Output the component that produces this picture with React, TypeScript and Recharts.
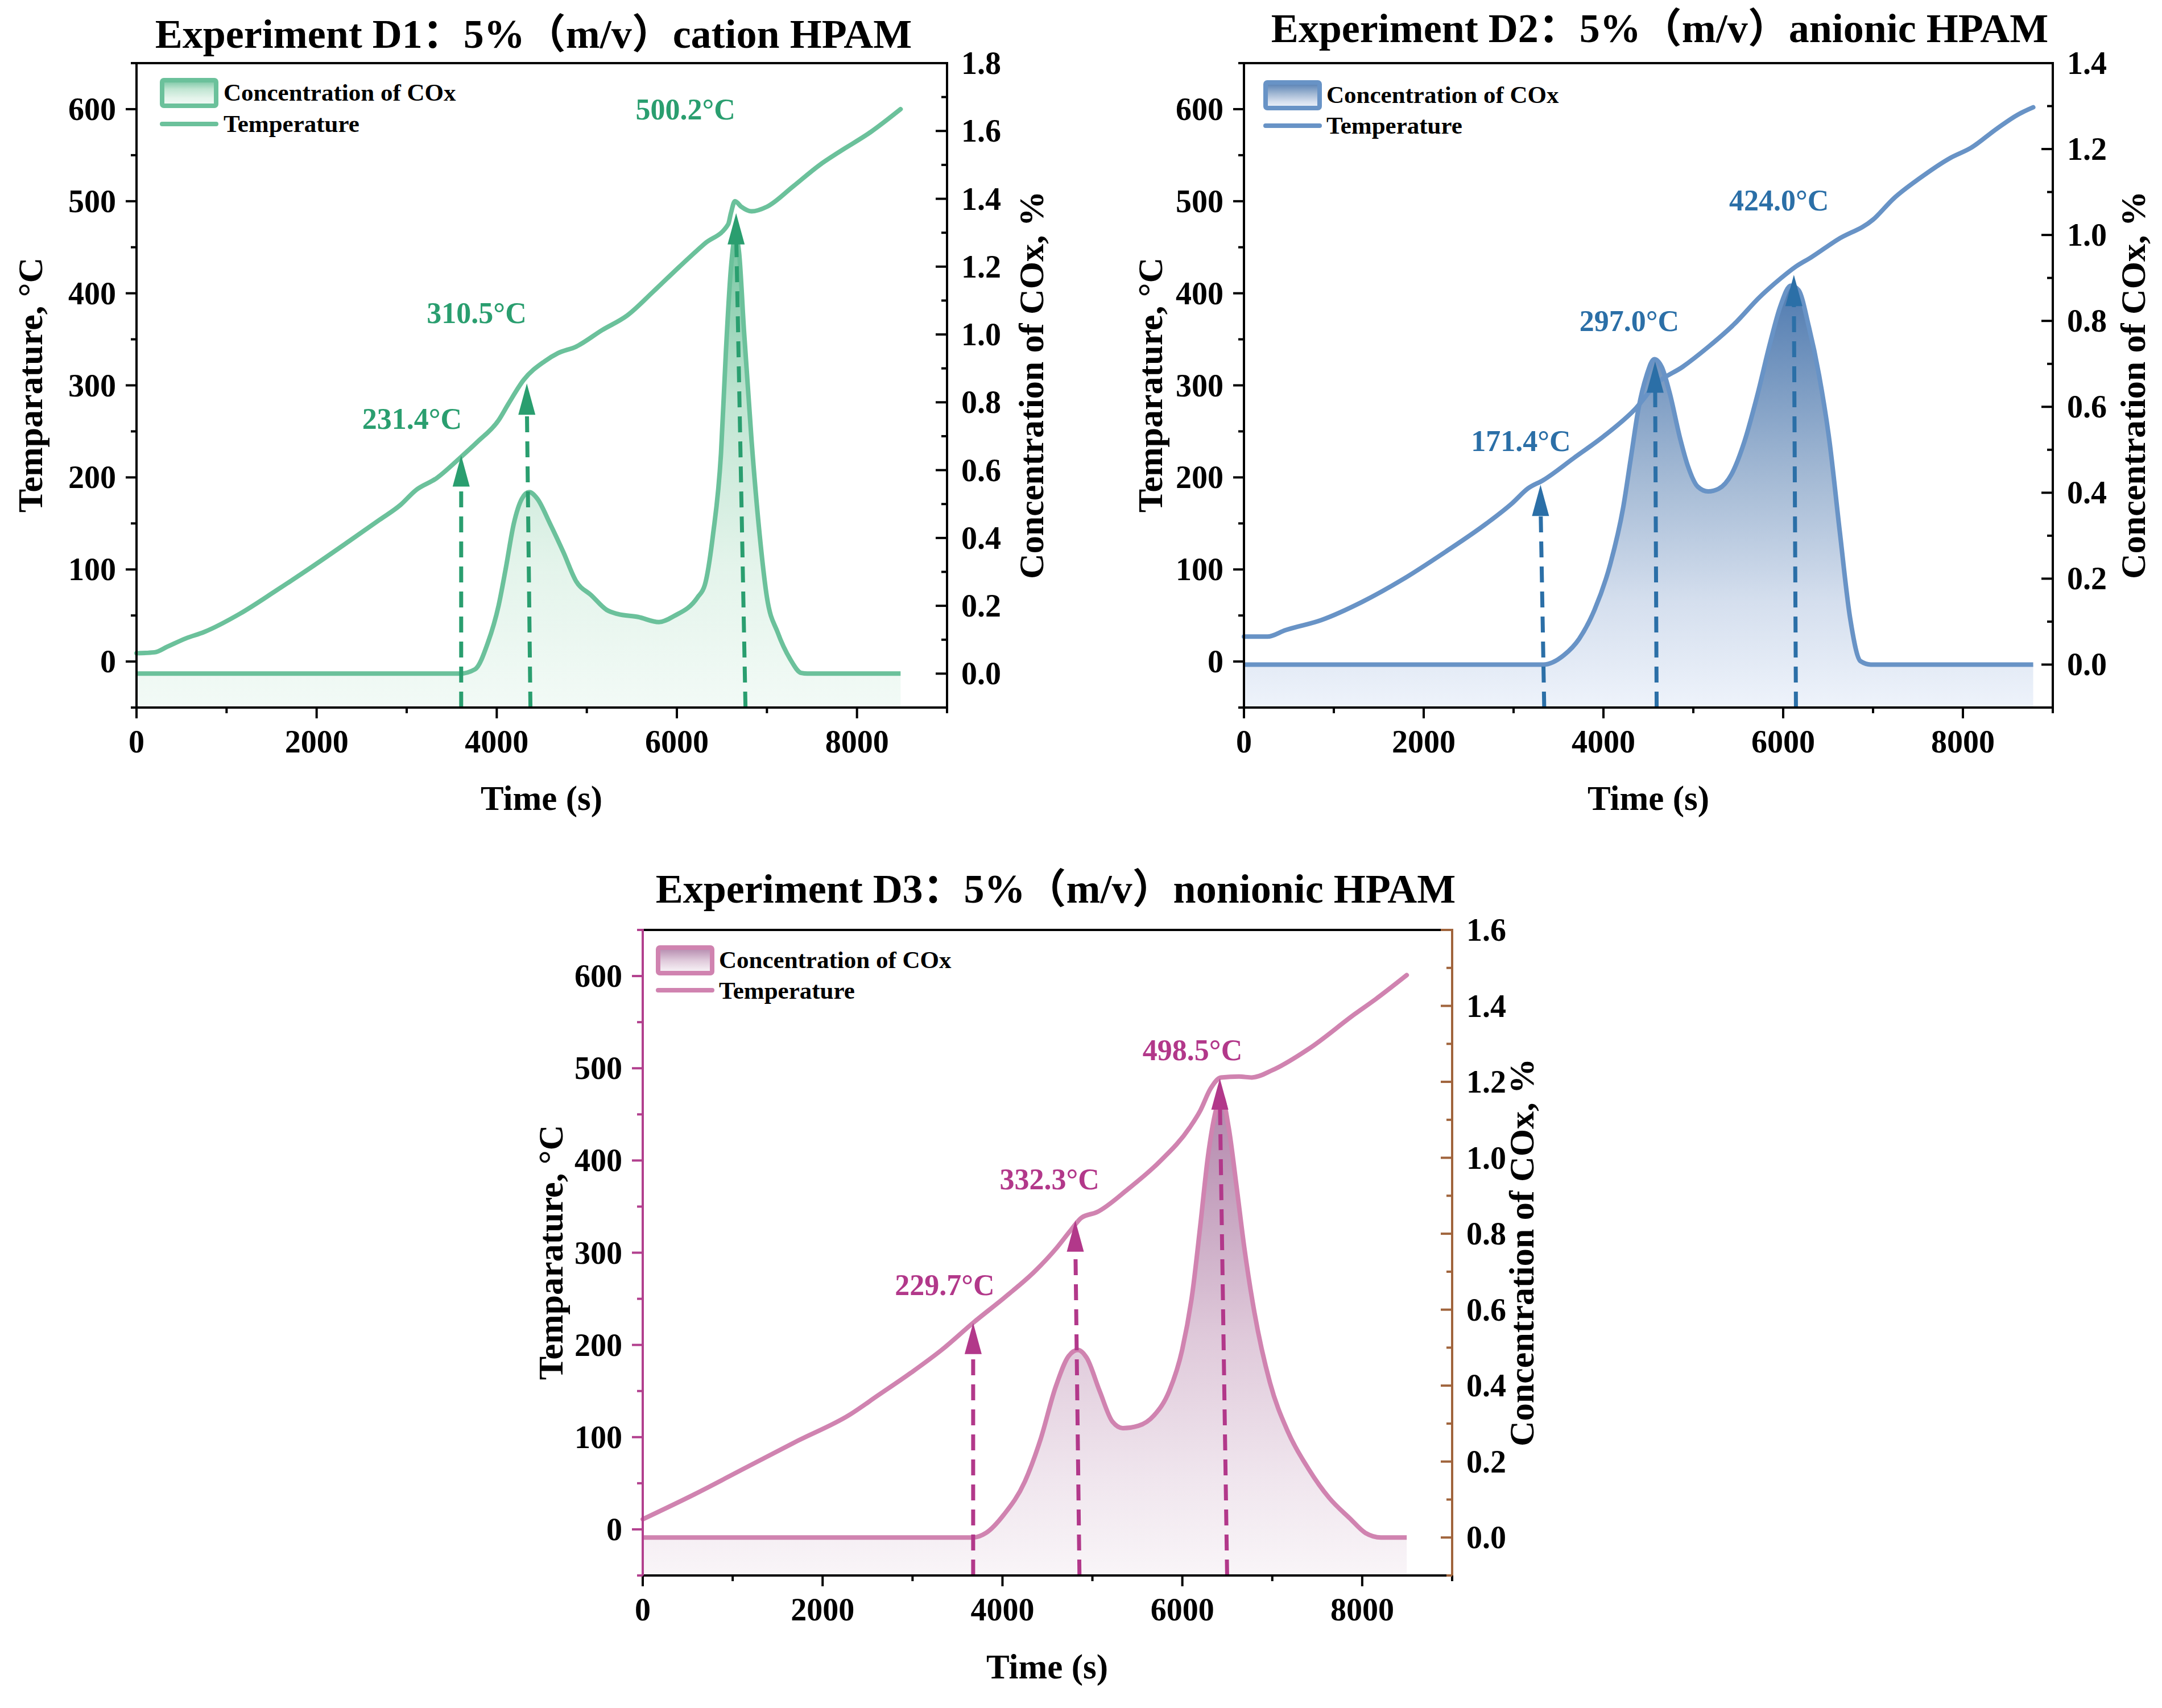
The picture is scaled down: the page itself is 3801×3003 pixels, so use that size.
import React from 'react';
import { ComposedChart, Line, Area, XAxis, YAxis, ReferenceLine, ReferenceDot } from 'recharts';

const FONT = "'Times New Roman', 'Liberation Serif', 'Noto Sans CJK SC', serif";

// ---------- tick values ----------
const X_TICKS = [0, 1000, 2000, 3000, 4000, 5000, 6000, 7000, 8000, 9000];
const X_LABELS = [0, 2000, 4000, 6000, 8000];
const T_TICKS = [-50, 0, 50, 100, 150, 200, 250, 300, 350, 400, 450, 500, 550, 600, 650];
const T_LABELS = [0, 100, 200, 300, 400, 500, 600];
const C_TICKS_D1 = [-0.1, 0, 0.1, 0.2, 0.3, 0.4, 0.5, 0.6, 0.7, 0.8, 0.9, 1.0, 1.1, 1.2, 1.3, 1.4, 1.5, 1.6, 1.7, 1.8];
const C_TICKS_D2 = [-0.1, 0, 0.1, 0.2, 0.3, 0.4, 0.5, 0.6, 0.7, 0.8, 0.9, 1.0, 1.1, 1.2, 1.3, 1.4];
const C_TICKS_D3 = [-0.1, 0, 0.1, 0.2, 0.3, 0.4, 0.5, 0.6, 0.7, 0.8, 0.9, 1.0, 1.1, 1.2, 1.3, 1.4, 1.5, 1.6];
const C_LABELS = [0, 0.2, 0.4, 0.6, 0.8, 1.0, 1.2, 1.4, 1.6, 1.8];

// ---------- D1: cation HPAM ----------
const d1TempTime = [0, 200, 340, 545, 750, 1150, 1550, 1950, 2350, 2700, 2930, 3100, 3330, 3590, 3790, 4020, 4130, 4300, 4530, 4680, 4880, 5170, 5450, 5740, 6030, 6310, 6570, 6600, 6645, 6715, 6830, 7000, 7290, 7580, 7810, 8150, 8484];
const d1Temp = [9, 10, 16, 25, 32, 52, 77, 103, 130, 154, 170, 186, 199, 221, 239, 262, 280, 306, 326, 335, 342, 360, 376, 402, 429, 454, 475, 487, 500, 494, 489, 494, 516, 539, 554, 575, 600];
const d1ConcTime = [0, 3590, 3760, 3900, 4020, 4100, 4190, 4280, 4360, 4450, 4590, 4740, 4880, 5050, 5220, 5340, 5570, 5800, 5970, 6230, 6310, 6400, 6490, 6545, 6600, 6650, 6690, 6745, 6830, 6920, 7000, 7120, 7260, 7380, 7450, 8484];
const d1Conc = [0, 0, 0.013, 0.09, 0.2, 0.31, 0.443, 0.516, 0.535, 0.516, 0.443, 0.358, 0.273, 0.231, 0.188, 0.176, 0.167, 0.152, 0.17, 0.225, 0.261, 0.407, 0.649, 0.952, 1.194, 1.29, 1.243, 1.012, 0.685, 0.407, 0.225, 0.121, 0.042, 0.002, 0, 0];
const d1Arrows = [
  { bottom: 3605, top: 3605, temp: 224 },
  { bottom: 4374, top: 4334, temp: 302 },
  { bottom: 6762, top: 6658, temp: 487 },
];
const d1Notes = [
  { text: '231.4°C', time: 3060, temp: 264 },
  { text: '310.5°C', time: 3777, temp: 379 },
  { text: '500.2°C', time: 6096, temp: 600 },
];

// ---------- D2: anionic HPAM ----------
const d2TempTime = [0, 260, 460, 860, 1320, 1780, 2240, 2700, 2985, 3160, 3330, 3670, 4020, 4360, 4590, 4880, 5170, 5450, 5740, 5970, 6140, 6310, 6600, 7000, 7230, 7520, 7860, 8090, 8380, 8610, 8782];
const d2Temp = [27, 27, 34, 45, 65, 90, 119, 150, 172, 188, 197, 221, 246, 275, 302, 320, 342, 366, 396, 416, 429, 439, 458, 480, 503, 525, 547, 558, 579, 594, 602];
const d2ConcTime = [0, 3330, 3560, 3730, 3900, 4075, 4220, 4305, 4390, 4480, 4565, 4650, 4735, 4850, 4940, 5050, 5165, 5280, 5425, 5570, 5710, 5855, 5970, 6085, 6170, 6285, 6400, 6515, 6630, 6745, 6860, 6975, 8782];
const d2Conc = [0, 0, 0.022, 0.06, 0.127, 0.233, 0.366, 0.481, 0.596, 0.673, 0.711, 0.692, 0.634, 0.529, 0.462, 0.414, 0.403, 0.409, 0.443, 0.52, 0.625, 0.749, 0.835, 0.882, 0.872, 0.787, 0.673, 0.52, 0.309, 0.108, 0.008, 0, 0];
const d2Arrows = [
  { bottom: 3341, top: 3300, temp: 192 },
  { bottom: 4592, top: 4575, temp: 326 },
  { bottom: 6142, top: 6119, temp: 420 },
];
const d2Notes = [
  { text: '171.4°C', time: 3082, temp: 240 },
  { text: '297.0°C', time: 4288, temp: 370 },
  { text: '424.0°C', time: 5953, temp: 501 },
];

// ---------- D3: nonionic HPAM ----------
const d3TempTime = [0, 574, 1148, 1722, 2296, 2612, 2985, 3329, 3674, 4018, 4362, 4592, 4764, 4879, 5051, 5396, 5740, 6084, 6199, 6314, 6429, 6630, 6773, 7003, 7405, 7921, 8151, 8495];
const d3Temp = [11, 38, 67, 96, 124, 145, 170, 195, 224, 251, 280, 304, 325, 338, 344, 369, 398, 436, 454, 478, 490, 491, 490, 498, 521, 559, 575, 601];
const d3ConcTime = [0, 3674, 3817, 4018, 4248, 4420, 4592, 4736, 4839, 4937, 5080, 5223, 5338, 5510, 5683, 5855, 5998, 6113, 6199, 6285, 6371, 6429, 6515, 6601, 6688, 6802, 6974, 7175, 7405, 7634, 7864, 8036, 8208, 8495];
const d3Conc = [0, 0, 0.012, 0.061, 0.147, 0.256, 0.397, 0.478, 0.494, 0.473, 0.386, 0.305, 0.288, 0.294, 0.321, 0.386, 0.494, 0.646, 0.82, 1.004, 1.123, 1.165, 1.08, 0.928, 0.765, 0.592, 0.408, 0.278, 0.18, 0.104, 0.05, 0.012, 0, 0];
const d3Arrows = [
  { bottom: 3674, top: 3674, temp: 224 },
  { bottom: 4856, top: 4810, temp: 335 },
  { bottom: 6498, top: 6417, temp: 489 },
];
const d3Notes = [
  { text: '229.7°C', time: 3358, temp: 265 },
  { text: '332.3°C', time: 4523, temp: 380 },
  { text: '498.5°C', time: 6113, temp: 520 },
];

function merge(tt: number[], tv: number[], ct: number[], cv: number[]) {
  const map = new Map<number, any>();
  tt.forEach((t, i) => { const o = map.get(t) || { t }; o.temp = tv[i]; map.set(t, o); });
  ct.forEach((t, i) => { const o = map.get(t) || { t }; o.conc = cv[i]; map.set(t, o); });
  return Array.from(map.values()).sort((a, b) => a.t - b.t);
}

const isLabel = (arr: number[], v: number) => arr.some((a) => Math.abs(a - v) < 1e-6);

const makeXTick = (color: string) => (p: any) => {
  const { x, y, payload } = p;
  const v = payload.value;
  const major = isLabel(X_LABELS, v);
  return (
    <g>
      <line x1={x} y1={y} x2={x} y2={y + (major ? 19 : 10)} stroke={color} strokeWidth={4} />
      {major && (
        <text x={x} y={y + 79} textAnchor="middle" fontFamily={FONT} fontWeight="bold" fontSize={56} fill="#000">{v}</text>
      )}
    </g>
  );
};

const makeLeftTick = (color: string) => (p: any) => {
  const { x, y, payload } = p;
  const v = payload.value;
  const major = isLabel(T_LABELS, v);
  return (
    <g>
      <line x1={x} y1={y} x2={x - (major ? 19 : 10)} y2={y} stroke={color} strokeWidth={4} />
      {major && (
        <text x={x - 36} y={y + 19} textAnchor="end" fontFamily={FONT} fontWeight="bold" fontSize={56} fill="#000">{v}</text>
      )}
    </g>
  );
};

const makeRightTick = (color: string) => (p: any) => {
  const { x, y, payload } = p;
  const v = payload.value;
  const major = isLabel(C_LABELS, v);
  return (
    <g>
      <line x1={x} y1={y} x2={x - (major ? 20 : 10)} y2={y} stroke={color} strokeWidth={4} />
      {major && (
        <text x={x + 25} y={y + 19} textAnchor="start" fontFamily={FONT} fontWeight="bold" fontSize={56} fill="#000">{Number(v).toFixed(1)}</text>
      )}
    </g>
  );
};

type PanelProps = {
  id: string;
  data: any[];
  cMax: number;
  cTicks: number[];
  line: string;
  accent: string;
  stops: [number, string][];
  arrows: { bottom: number; top: number; temp: number }[];
  notes: { text: string; time: number; temp: number }[];
  width: number;
  height: number;
  margin: { top: number; right: number; bottom: number; left: number };
  leftW: number;
  leftAxisColor: string;
  rightAxisColor: string;
};

function Panel(props: PanelProps) {
  const { id, data, cMax, cTicks, line, accent, stops, arrows, notes, width, height, margin, leftW, leftAxisColor, rightAxisColor } = props;
  return (
    <ComposedChart width={width} height={height} data={data} margin={margin}>
      <defs>
        <linearGradient id={`grad-${id}`} x1="0" y1="0" x2="0" y2="1">
          {stops.map(([o, c], i) => <stop key={i} offset={o} stopColor={c} stopOpacity={1} />)}
        </linearGradient>
      </defs>
      <XAxis
        type="number"
        dataKey="t"
        domain={[0, 9000]}
        ticks={X_TICKS}
        interval={0}
        height={100}
        tickSize={0}
        tickMargin={0}
        tickLine={false}
        axisLine={{ stroke: '#000', strokeWidth: 4, strokeLinecap: 'square' }}
        tick={makeXTick('#000')}
      />
      <YAxis
        yAxisId="T"
        orientation="left"
        type="number"
        domain={[-50, 650]}
        ticks={T_TICKS}
        interval={0}
        width={leftW}
        tickSize={0}
        tickMargin={0}
        tickLine={false}
        axisLine={{ stroke: leftAxisColor, strokeWidth: 4, strokeLinecap: 'square' }}
        tick={makeLeftTick(leftAxisColor)}
      />
      <YAxis
        yAxisId="C"
        orientation="right"
        type="number"
        domain={[-0.1, cMax]}
        ticks={cTicks}
        interval={0}
        width={150}
        tickSize={0}
        tickMargin={0}
        tickLine={false}
        axisLine={{ stroke: rightAxisColor, strokeWidth: 4, strokeLinecap: 'square' }}
        tick={makeRightTick(rightAxisColor)}
      />
      <ReferenceLine yAxisId="T" y={650} stroke="#000" strokeWidth={4} ifOverflow="visible" />
      <Area
        yAxisId="C"
        type="monotone"
        dataKey="conc"
        stroke={line}
        strokeWidth={8}
        fill={`url(#grad-${id})`}
        fillOpacity={1}
        baseValue="dataMin"
        connectNulls
        dot={false}
        activeDot={false}
        isAnimationActive={false}
      />
      <Line
        yAxisId="T"
        type="monotone"
        dataKey="temp"
        stroke={line}
        strokeWidth={8}
        strokeLinecap="round"
        dot={false}
        activeDot={false}
        connectNulls
        isAnimationActive={false}
      />
      {arrows.map((a, i) => (
        <ReferenceLine
          key={`al${i}`}
          yAxisId="T"
          segment={[{ x: a.bottom, y: -50 }, { x: a.top, y: a.temp - 20 }]}
          stroke={accent}
          strokeWidth={7}
          strokeDasharray="28 16"
          ifOverflow="visible"
        />
      ))}
      {arrows.map((a, i) => (
        <ReferenceDot
          key={`ah${i}`}
          yAxisId="T"
          x={a.top}
          y={a.temp}
          r={0}
          ifOverflow="visible"
          shape={(p: any) => (
            <polygon points={`${p.cx},${p.cy} ${p.cx - 15},${p.cy + 55} ${p.cx + 15},${p.cy + 55}`} fill={accent} />
          )}
        />
      ))}
      {notes.map((n, i) => (
        <ReferenceDot
          key={`nt${i}`}
          yAxisId="T"
          x={n.time}
          y={n.temp}
          r={0}
          ifOverflow="visible"
          shape={(p: any) => (
            <text x={p.cx} y={p.cy + 18} textAnchor="middle" fontFamily={FONT} fontWeight="bold" fontSize={52} fill={accent}>{n.text}</text>
          )}
        />
      ))}
    </ComposedChart>
  );
}

const D1_STOPS: [number, string][] = [[0, '#74c4a0'], [0.35, '#c0e5d2'], [0.7, '#e4f4eb'], [1, '#f2faf6']];
const D2_STOPS: [number, string][] = [[0, '#507bb0'], [0.45, '#a3b9d4'], [0.75, '#d5dfee'], [1, '#eef3fb']];
const D3_STOPS: [number, string][] = [[0, '#b286ab'], [0.5, '#dfc9da'], [0.8, '#f0e6ee'], [1, '#f9f5f8']];

function LegendBlock({ x, y, line, stops, id, tx, b1, b2, ly }: any) {
  return (
    <g>
      <defs>
        <linearGradient id={`lg-${id}`} x1="0" y1="0" x2="0" y2="1">
          {stops.map(([o, c]: [number, string], i: number) => <stop key={i} offset={o} stopColor={c} />)}
        </linearGradient>
      </defs>
      <rect x={x + 4} y={y + 4} width={95} height={45} rx={3} fill={`url(#lg-${id})`} stroke={line} strokeWidth={8} />
      <line x1={x + 4} y1={ly} x2={x + 99} y2={ly} stroke={line} strokeWidth={8} strokeLinecap="round" />
      <text x={tx} y={b1} fontFamily={FONT} fontWeight="bold" fontSize={43} fill="#000">Concentration of COx</text>
      <text x={tx} y={b2} fontFamily={FONT} fontWeight="bold" fontSize={43} fill="#000">Temperature</text>
    </g>
  );
}

function VLabel({ x, y, text }: any) {
  return (
    <text x={x} y={y} transform={`rotate(-90 ${x} ${y})`} textAnchor="middle" dominantBaseline="central" fontFamily={FONT} fontWeight="bold" fontSize={62} fill="#000">{text}</text>
  );
}

export default function App() {
  const data1 = merge(d1TempTime, d1Temp, d1ConcTime, d1Conc);
  const data2 = merge(d2TempTime, d2Temp, d2ConcTime, d2Conc);
  const data3 = merge(d3TempTime, d3Temp, d3ConcTime, d3Conc);
  const titleStyle = { fontFamily: FONT, fontWeight: 'bold' as const, fontSize: 72, fill: '#000' };
  const axisTitle = { fontFamily: FONT, fontWeight: 'bold' as const, fontSize: 61, fill: '#000' };
  return (
    <div style={{ position: 'absolute', left: 0, top: 0, width: 3801, height: 3003, background: '#fff', overflow: 'hidden' }}>
      <div style={{ position: 'absolute', left: 0, top: 0 }}>
        <Panel id="d1" data={data1} cMax={1.8} cTicks={C_TICKS_D1} line="#6bc19b" accent="#2a9e6f" stops={D1_STOPS}
          arrows={d1Arrows} notes={d1Notes} width={1900} height={1450}
          margin={{ top: 111, right: 85, bottom: 106, left: 0 }} leftW={240} leftAxisColor="#000" rightAxisColor="#000" />
      </div>
      <div style={{ position: 'absolute', left: 1900, top: 0 }}>
        <Panel id="d2" data={data2} cMax={1.4} cTicks={C_TICKS_D2} line="#6893c6" accent="#2b6fa7" stops={D2_STOPS}
          arrows={d2Arrows} notes={d2Notes} width={1901} height={1450}
          margin={{ top: 111, right: 42, bottom: 106, left: 0 }} leftW={287} leftAxisColor="#000" rightAxisColor="#000" />
      </div>
      <div style={{ position: 'absolute', left: 900, top: 1480 }}>
        <Panel id="d3" data={data3} cMax={1.6} cTicks={C_TICKS_D3} line="#d083b0" accent="#b2388a" stops={D3_STOPS}
          arrows={d3Arrows} notes={d3Notes} width={1900} height={1523}
          margin={{ top: 155, right: 97, bottom: 133, left: 0 }} leftW={230} leftAxisColor="#b2408e" rightAxisColor="#a0643c" />
      </div>
      <svg style={{ position: 'absolute', left: 0, top: 0, pointerEvents: 'none' }} width={3801} height={3003}>
        <text x={938} y={84} textAnchor="middle" {...titleStyle}>Experiment D1：5%（m/v）cation HPAM</text>
        <text x={2918} y={74} textAnchor="middle" {...titleStyle}>Experiment D2：5%（m/v）anionic HPAM</text>
        <text x={1856} y={1587} textAnchor="middle" {...titleStyle}>Experiment D3：5%（m/v）nonionic HPAM</text>

        <text x={952} y={1424} textAnchor="middle" {...axisTitle}>Time (s)</text>
        <text x={2898} y={1424} textAnchor="middle" {...axisTitle}>Time (s)</text>
        <text x={1841} y={2951} textAnchor="middle" {...axisTitle}>Time (s)</text>

        <VLabel x={53} y={677} text="Temparature, °C" />
        <VLabel x={1813} y={677} text="Concentration of COx, %" />
        <VLabel x={2022} y={677} text="Temparature, °C" />
        <VLabel x={3750} y={677} text="Concentration of COx, %" />
        <VLabel x={968} y={2202} text="Temparature, °C" />
        <VLabel x={2675} y={2202} text="Concentration of COx, %" />

        <LegendBlock id="d1" x={281} y={137} line="#6bc19b" stops={D1_STOPS} tx={393} b1={177} b2={232} ly={218} />
        <LegendBlock id="d2" x={2221} y={141} line="#6893c6" stops={D2_STOPS} tx={2332} b1={181} b2={235} ly={221} />
        <LegendBlock id="d3" x={1153} y={1662} line="#d083b0" stops={D3_STOPS} tx={1264} b1={1702} b2={1756} ly={1741} />
      </svg>
    </div>
  );
}
